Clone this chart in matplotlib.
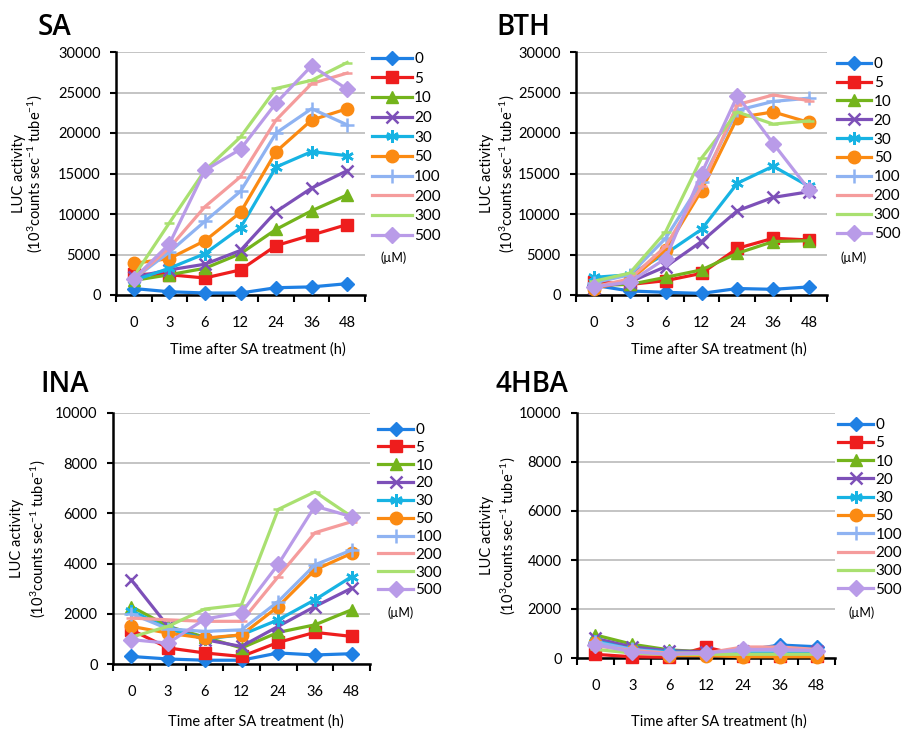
import matplotlib
matplotlib.use("Agg")
import matplotlib.pyplot as plt
import numpy as np

plt.rcParams['font.family'] = ['Lato', 'DejaVu Sans']
plt.rcParams['mathtext.fontset'] = 'custom'
plt.rcParams['mathtext.rm'] = 'Lato'
plt.rcParams['mathtext.it'] = 'Lato:italic'
plt.rcParams['mathtext.bf'] = 'Lato:bold'

time_labels = ['0', '3', '6', '12', '24', '36', '48']
conc_labels = ['0', '5', '10', '20', '30', '50', '100', '200', '300', '500']

sa = {
    '0':   [800, 400, 250, 250, 900, 1000, 1400],
    '5':   [2600, 2500, 2100, 3100, 6100, 7400, 8700],
    '10':  [1800, 2500, 3300, 5100, 8100, 10400, 12350],
    '20':  [2200, 3100, 3800, 5500, 10300, 13200, 15350],
    '30':  [1800, 3300, 5100, 8300, 15800, 17700, 17200],
    '50':  [3900, 4500, 6700, 10200, 17700, 21600, 23000],
    '100': [2000, 5300, 9100, 12800, 20000, 23000, 21000],
    '200': [2000, 5800, 10900, 14600, 21600, 26100, 27400],
    '300': [2300, 8900, 15400, 19500, 25500, 26500, 28700],
    '500': [2000, 6300, 15400, 18000, 23700, 28300, 25400],
}
bth = {
    '0':   [1200, 500, 330, 200, 800, 700, 1000],
    '5':   [1650, 1300, 1770, 2670, 5760, 7000, 6800],
    '10':  [1200, 1300, 2180, 3100, 5150, 6600, 6700],
    '20':  [900, 1600, 3500, 6600, 10400, 12050, 12750],
    '30':  [2180, 2500, 5100, 8100, 13800, 15900, 13400],
    '50':  [800, 1800, 5600, 12900, 21900, 22600, 21300],
    '100': [1500, 2500, 7000, 14000, 22800, 23900, 24300],
    '200': [1000, 2000, 6000, 13400, 23500, 24700, 24000],
    '300': [1700, 2700, 7800, 16900, 22600, 21100, 21500],
    '500': [1000, 1600, 4500, 15000, 24600, 18700, 13000],
}
ina = {
    '0':   [300, 200, 150, 150, 440, 360, 410],
    '5':   [1360, 640, 440, 300, 860, 1260, 1100],
    '10':  [2290, 1500, 1070, 640, 1260, 1560, 2160],
    '20':  [3350, 1500, 970, 700, 1500, 2290, 3020],
    '30':  [2130, 1400, 1000, 1160, 1760, 2560, 3480],
    '50':  [1500, 1230, 1030, 1160, 2290, 3750, 4410],
    '100': [2000, 1400, 1300, 1360, 2490, 3950, 4540],
    '200': [1830, 1760, 1700, 1700, 3480, 5230, 5670],
    '300': [1070, 1500, 2190, 2360, 6160, 6860, 5870],
    '500': [970, 830, 1790, 2050, 3970, 6290, 5870],
}
hba = {
    '0':   [600, 400, 250, 250, 300, 530, 460],
    '5':   [150, 50, 30, 440, 100, 100, 100],
    '10':  [940, 560, 330, 250, 250, 250, 250],
    '20':  [800, 450, 300, 250, 300, 300, 300],
    '30':  [700, 350, 250, 200, 200, 200, 200],
    '50':  [600, 300, 100, 100, 50, 50, 50],
    '100': [650, 350, 200, 200, 300, 300, 300],
    '200': [500, 300, 200, 200, 450, 450, 350],
    '300': [350, 200, 150, 150, 150, 150, 150],
    '500': [550, 250, 150, 200, 350, 350, 300],
}

colors = ['#1f80e4', '#ee1d1d', '#74b41c', '#7d50b8', '#17b3e3',
          '#fb8a12', '#8fb3f2', '#f59c9c', '#a9e070', '#b99be8']
markers = ['D', 's', '^', 'x', (6, 2, 0), 'o', '+', '_', '_', 'D']
msizes = [7, 8, 8, 9, 9, 9, 10, 7, 7, 8]

W, H = 905, 729
fig = plt.figure(figsize=(W / 100, H / 100), dpi=100)

def px_axes(l, t, r, b):
    return fig.add_axes([l / W, 1 - b / H, (r - l) / W, (b - t) / H])

panels = [
    dict(name='SA', data=sa, box=(116, 52, 365, 295), ymax=30000, ystep=5000,
         title=(38, 35), leg=(372, 52, 0.37, 2.6), um=(380, 258),
         yl=(19, 35), xl=(258, 350)),
    dict(name='BTH', data=bth, box=(576, 52, 827, 295), ymax=30000, ystep=5000,
         title=(496, 35), leg=(837, 57, 0.32, 2.25), um=(840, 258),
         yl=(487, 507), xl=(719, 350)),
    dict(name='INA', data=ina, box=(113, 413, 370, 664), ymax=10000, ystep=2000,
         title=(40, 392), leg=(378, 423, 0.25, 2.3), um=(387, 613),
         yl=(17, 38), xl=(256, 722)),
    dict(name='4HBA', data=hba, box=(577, 413, 835, 658), ymax=10000, ystep=2000,
         title=(495, 392), leg=(838, 418, 0.28, 2.3), um=(848, 613),
         yl=(487, 508), xl=(719, 722)),
]

x = np.arange(len(time_labels))
for p in panels:
    l, t, r, b = p['box']
    ax = px_axes(l, t, r, b)
    handles = []
    for i, c in enumerate(conc_labels):
        h, = ax.plot(x, p['data'][c], color=colors[i], lw=2.3,
                     marker=markers[i], markersize=msizes[i],
                     markeredgewidth=1.8 if markers[i] in ('x', '+', '_', (6, 2, 0)) else 1.0,
                     markeredgecolor=colors[i], markerfacecolor=colors[i],
                     label=c, clip_on=False, zorder=3 + i)
        handles.append(h)
    ax.set_xlim(-0.5, len(x) - 0.5)
    ax.set_ylim(0, p['ymax'])
    ax.set_yticks(np.arange(0, p['ymax'] + 1, p['ystep']))
    ax.yaxis.grid(True, color='#b4b4b4', lw=1.1)
    ax.set_axisbelow(True)
    for s in ('top', 'right'):
        ax.spines[s].set_visible(False)
    for s in ('left', 'bottom'):
        ax.spines[s].set_linewidth(1.8)
    ax.set_xticks(np.arange(-0.5, len(x), 1.0))
    ax.set_xticklabels([])
    ax.set_xticks(x, minor=True)
    ax.set_xticklabels(time_labels, minor=True)
    ax.tick_params(axis='x', which='major', length=5, width=1.5, direction='out')
    ax.tick_params(axis='x', which='minor', length=0, pad=15, labelsize=10.5)
    ax.tick_params(axis='y', length=4, width=1.5, direction='out', pad=7, labelsize=10.5)

    tx, ty = p['title']
    fig.text(tx / W, 1 - ty / H, p['name'], fontsize=20, fontweight='semibold',
             family=['Open Sans', 'DejaVu Sans'], va='baseline', ha='left')
    lx, ly, lsp, hl = p['leg']
    ax.legend(handles=handles, loc='upper left',
              bbox_to_anchor=(lx / W, 1 - ly / H), bbox_transform=fig.transFigure,
              frameon=False, fontsize=11, handlelength=hl, handletextpad=0.15,
              borderpad=0, borderaxespad=0, labelspacing=lsp)
    ux, uy = p['um']
    fig.text(ux / W, 1 - uy / H, '(µM)', fontsize=9, ha='left', va='center')
    y1, y2 = p['yl']
    yc = (t + b) / 2
    fig.text(y1 / W, 1 - yc / H, 'LUC activity', rotation=90, fontsize=10.5,
             ha='center', va='center')
    fig.text(y2 / W, 1 - yc / H, r'(10$^{3}$counts sec$^{-1}$ tube$^{-1}$)',
             rotation=90, fontsize=10.5, ha='center', va='center')
    xx, xy = p['xl']
    fig.text(xx / W, 1 - xy / H, 'Time after SA treatment (h)', fontsize=10.5,
             ha='center', va='center')

fig.savefig('out.png', dpi=100, facecolor='white')
